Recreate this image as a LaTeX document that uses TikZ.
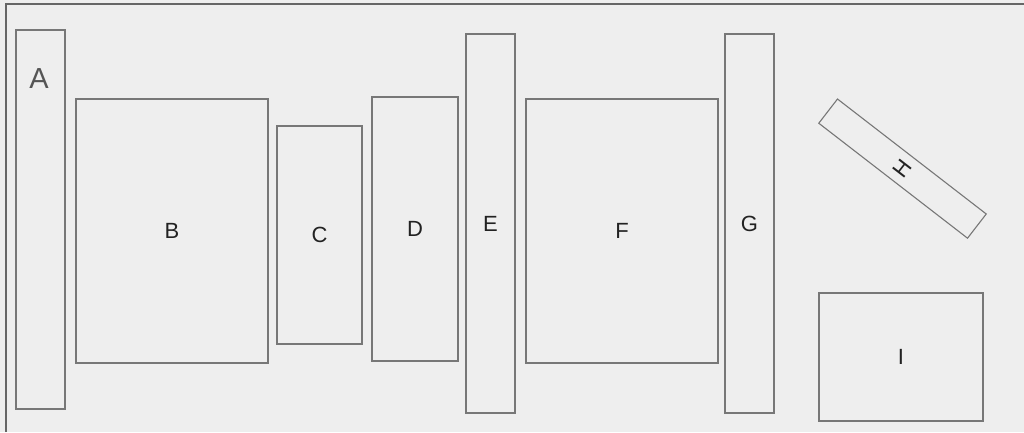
\documentclass[tikz,border=0pt]{standalone}
\usepackage{fontspec}
\setmainfont{Liberation Sans}
\definecolor{bg}{HTML}{EEEEEE}
\definecolor{edge}{HTML}{777777}
\definecolor{frame}{HTML}{666666}
\definecolor{txt}{HTML}{222222}
\definecolor{atxt}{HTML}{555555}
\begin{document}
\begin{tikzpicture}[x=1pt,y=-1pt,
  blk/.style={draw=edge, fill=bg, line width=1.1pt, rectangle, inner sep=0pt,
     text=txt, font=\fontsize{22}{26}\selectfont},
]
\useasboundingbox (0,0) rectangle (1024,432);
\fill[bg] (0,0) rectangle (1024,432);
\draw[frame, line width=1.1pt] (6,432) -- (6,4) -- (1024,4);

\node[blk, minimum width=49pt, minimum height=379pt] (A) at (40.5,219.5) {};
\node[text=atxt, font=\fontsize{29}{33}\selectfont] (Alabel) at (39,79) {A};
\node[blk, minimum width=192pt, minimum height=264pt] (B) at (172,231) {B};
\node[blk, minimum width=85pt, minimum height=218pt] (C) at (319.5,235) {C};
\node[blk, minimum width=86pt, minimum height=264pt] (D) at (415,229) {D};
\node[blk, minimum width=49pt, minimum height=379pt] (E) at (490.5,223.5) {E};
\node[blk, minimum width=192pt, minimum height=264pt] (F) at (622,231) {F};
\node[blk, minimum width=49pt, minimum height=379pt] (G) at (749.5,223.5) {G};
\node[blk, minimum width=188pt, minimum height=30.6pt, rotate=-37.7] (H) at (902.5,168.6) {\rotatebox{90}{H}};
\node[blk, minimum width=164pt, minimum height=128pt] (I) at (901,357) {I};
\end{tikzpicture}
\end{document}
